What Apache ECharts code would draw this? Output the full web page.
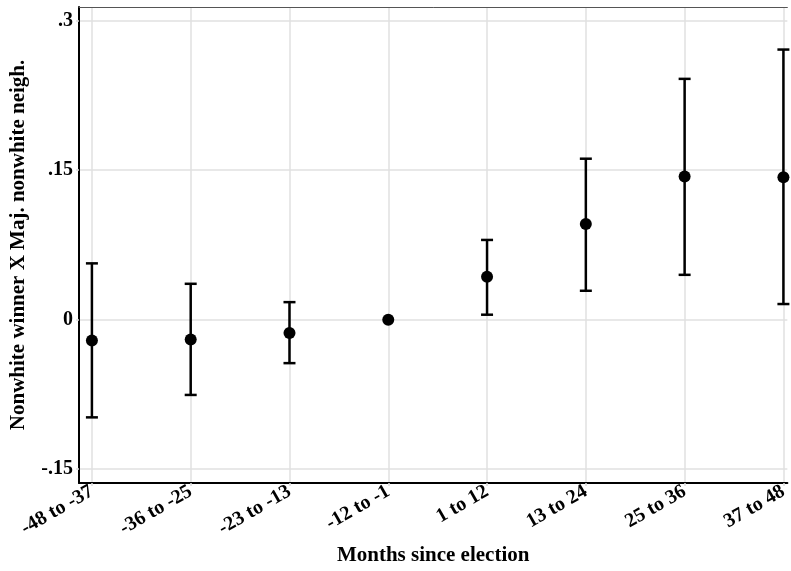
<!DOCTYPE html>
<html><head><meta charset="utf-8">
<script src="https://cdn.jsdelivr.net/npm/echarts@6/dist/echarts.min.js"></script>
<style>html,body{margin:0;padding:0;background:#fff}#c{width:791px;height:571px}</style>
</head><body><div id="c"></div>
<script>
const categories = ['-48 to -37','-36 to -25','-23 to -13','-12 to -1','1 to 12','13 to 24','25 to 36','37 to 48'];
const estimates = [-0.021, -0.020, -0.0133, 0, 0.043, 0.096, 0.1436, 0.1429];
const upper = [0.0565, 0.036, 0.0176, 0, 0.080, 0.1615, 0.2416, 0.271];
const lower = [-0.098, -0.0755, -0.0436, 0, 0.005, 0.029, 0.045, 0.0157];
const yTicks = [-0.15, 0, 0.15, 0.3];
const yTickLabels = ['-.15', '0', '.15', '.3'];

const font = 'Liberation Serif';
const chart = echarts.init(document.getElementById('c'));
const idx = categories.map((_, i) => i);
const ciData = idx.filter(i => upper[i] !== lower[i]).map(i => [i, lower[i], upper[i]]);

chart.setOption({
  animation: false,
  grid: {left: 78, right: 0, top: 7, bottom: 86, containLabel: false},
  xAxis: [{
    type: 'value', min: -0.1307, max: 7.04,
    name: 'Months since election', nameLocation: 'middle', nameGap: 57,
    nameTextStyle: {fontFamily: font, fontWeight: 'bold', fontSize: 21, color: '#000'},
    axisLine: {show: true, onZero: false, lineStyle: {color: '#000', width: 2}},
    axisTick: {show: true, customValues: idx, length: 3, lineStyle: {color: '#ddd', width: 1.5}},
    axisLabel: {customValues: idx, rotate: 30, margin: 7, fontFamily: font, fontWeight: 'bold', fontSize: 20, color: '#000',
      formatter: v => categories[Math.round(v)]},
    splitLine: {show: true, lineStyle: {color: '#e0e0e0', width: 1.5}}
  }, {
    type: 'value', position: 'top', min: -0.1307, max: 7.04,
    axisLine: {show: true, onZero: false, lineStyle: {color: '#555', width: 1}},
    axisTick: {show: false}, axisLabel: {show: false}, splitLine: {show: false}
  }],
  yAxis: {
    type: 'value', min: -0.1638, max: 0.3137,
    name: 'Nonwhite winner X Maj. nonwhite neigh.', nameLocation: 'middle', nameGap: 50,
    nameTextStyle: {fontFamily: font, fontWeight: 'bold', fontSize: 21, color: '#000'},
    axisLine: {show: true, onZero: false, lineStyle: {color: '#000', width: 2}},
    axisTick: {show: true, customValues: yTicks, length: 3, lineStyle: {color: '#ddd', width: 1.5}},
    axisLabel: {customValues: yTicks, margin: 6, fontFamily: font, fontWeight: 'bold', fontSize: 20, color: '#000',
      formatter: v => yTickLabels[yTicks.findIndex(t => Math.abs(t - v) < 1e-9)]},
    splitLine: {show: true, lineStyle: {color: '#e0e0e0', width: 1.5}}
  },
  series: [{
    type: 'custom',
    data: ciData,
    clip: false,
    renderItem: (params, api) => {
      const x = api.value(0);
      const lo = api.coord([x, api.value(1)]);
      const hi = api.coord([x, api.value(2)]);
      const w = 6;
      const st = {stroke: '#000', lineWidth: 2.5};
      return {type: 'group', children: [
        {type: 'line', shape: {x1: lo[0], y1: lo[1], x2: hi[0], y2: hi[1]}, style: st},
        {type: 'line', shape: {x1: lo[0]-w, y1: lo[1], x2: lo[0]+w, y2: lo[1]}, style: st},
        {type: 'line', shape: {x1: hi[0]-w, y1: hi[1], x2: hi[0]+w, y2: hi[1]}, style: st}
      ]};
    },
    z: 3
  }, {
    type: 'scatter',
    data: idx.map(i => [i, estimates[i]]),
    symbol: 'circle', symbolSize: 12,
    itemStyle: {color: '#000', opacity: 1},
    clip: false,
    z: 4
  }]
});
</script></body></html>
